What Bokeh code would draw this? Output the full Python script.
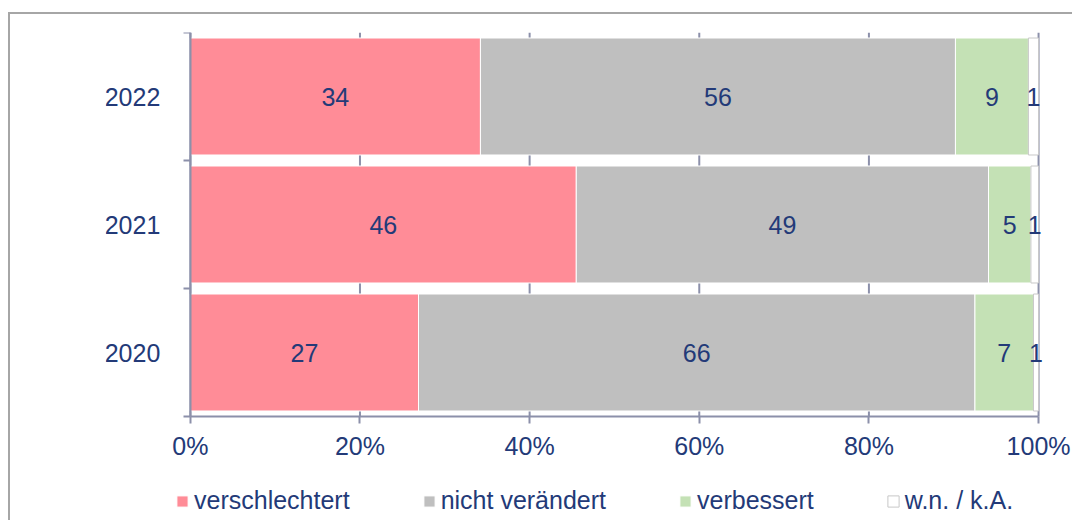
from bokeh.plotting import figure
from bokeh.models import ColumnDataSource, Range1d, FixedTicker, Legend, LegendItem
from bokeh.core.properties import value
from bokeh.embed import file_html
from bokeh.resources import INLINE

# ---- data ----
years = ["2022", "2021", "2020"]
verschlechtert = [34.2, 45.5, 26.9]
nicht_veraendert = [56.0, 48.6, 65.6]
verbessert = [8.6, 5.0, 6.9]
wn_ka = [1.2, 0.9, 0.6]
series_names = ["verschlechtert", "nicht verändert", "verbessert", "w.n. / k.A."]
x_ticks = [0, 20, 40, 60, 80, 100]

# ---- styles ----
colors = ["#FF8C97", "#BFBFBF", "#C4E1B5", "#FFFFFF"]
outline = ["#FFFFFF", "#FFFFFF", "#FFFFFF", "#C8C8C8"]
NAVY = "#233A78"
AXIS = "#8C90AA"
FONT = "Liberation Sans"
FS = "25px"

series = [verschlechtert, nicht_veraendert, verbessert, wn_ka]
n = len(years)
ypos = [n - i - 0.5 for i in range(n)]

PX_PER_PCT = 8.48
X_LO, X_HI = -10, 104     # extra room left/right of 0..100 for labels
BAR_AREA_H = 384          # pixel height of the 3 category bands
EXTRA_H = 104             # room under the bars for tick labels + legend
ext = EXTRA_H / (BAR_AREA_H / n)
frame_w = round((X_HI - X_LO) * PX_PER_PCT)

p = figure(frame_width=frame_w, frame_height=BAR_AREA_H + EXTRA_H,
           x_range=Range1d(X_LO, X_HI), y_range=Range1d(-ext, n),
           output_backend="svg", toolbar_location=None,
           min_border_left=95, min_border_right=0,
           min_border_top=18, min_border_bottom=0,
           background_fill_color="white", border_fill_color="white")
p.outline_line_color = None
p.margin = (12, 0, 0, 8)
p.styles = {"border-left": "2px solid #A6A6A6", "border-top": "2px solid #A6A6A6"}

# vertical grid lines (only over the bar area)
p.segment(x0=x_ticks, y0=[0] * len(x_ticks), x1=x_ticks, y1=[n] * len(x_ticks),
          line_color=AXIS, line_width=2, level="underlay")

renderers = []
cum = [0.0] * n
for k, vals in enumerate(series):
    left = cum[:]
    right = [l + v for l, v in zip(left, vals)]
    cum = right
    src = ColumnDataSource(dict(
        y=ypos, left=left, right=right,
        xc=[(l + r) / 2 for l, r in zip(left, right)],
        lbl=[str(int(round(v))) for v in vals]))
    r = p.hbar(y="y", left="left", right="right", height=0.914, source=src,
               fill_color=colors[k], line_color=outline[k], line_width=1)
    renderers.append(r)
    p.text(x="xc", y="y", text="lbl", source=src,
           text_align="center", text_baseline="middle",
           text_font=value(FONT), text_font_size=FS, text_color=NAVY)

# x axis (drawn at y = 0)
xa = p.xaxis[0]
xa.fixed_location = 0
xa.bounds = (0, 100)
xa.ticker = FixedTicker(ticks=x_ticks)
xa.major_label_overrides = {t: f"{t}%" for t in x_ticks}
xa.major_tick_in = 0
xa.major_tick_out = 7
xa.minor_tick_line_color = None
xa.axis_line_color = AXIS
xa.axis_line_width = 2
xa.major_tick_line_color = AXIS
xa.major_tick_line_width = 2
xa.major_label_text_font = FONT
xa.major_label_text_font_size = FS
xa.major_label_text_color = NAVY
xa.major_label_standoff = 8

# y axis (drawn at x = 0)
ya = p.yaxis[0]
ya.fixed_location = 0
ya.bounds = (0, n)
ya.ticker = FixedTicker(ticks=ypos, minor_ticks=list(range(n + 1)))
ya.major_label_overrides = {y: lab for y, lab in zip(ypos, years)}
ya.major_tick_in = 0
ya.major_tick_out = 0
ya.minor_tick_in = 0
ya.minor_tick_out = 7
ya.minor_tick_line_color = AXIS
ya.minor_tick_line_width = 2
ya.axis_line_color = AXIS
ya.axis_line_width = 2
ya.major_label_text_font = FONT
ya.major_label_text_font_size = FS
ya.major_label_text_color = NAVY
ya.major_label_standoff = 23

p.xgrid.visible = False
p.ygrid.visible = False

# legend
legend = Legend(items=[LegendItem(label=nm, renderers=[r]) for nm, r in zip(series_names, renderers)],
                orientation="horizontal", location=(70, 5),
                padding=0, margin=0, spacing=72,
                glyph_width=14, glyph_height=14, label_standoff=5,
                label_text_font=FONT, label_text_font_size=FS, label_text_color=NAVY,
                border_line_color=None, background_fill_alpha=0)
p.add_layout(legend)

open("out.html", "w").write(file_html(p, INLINE))
